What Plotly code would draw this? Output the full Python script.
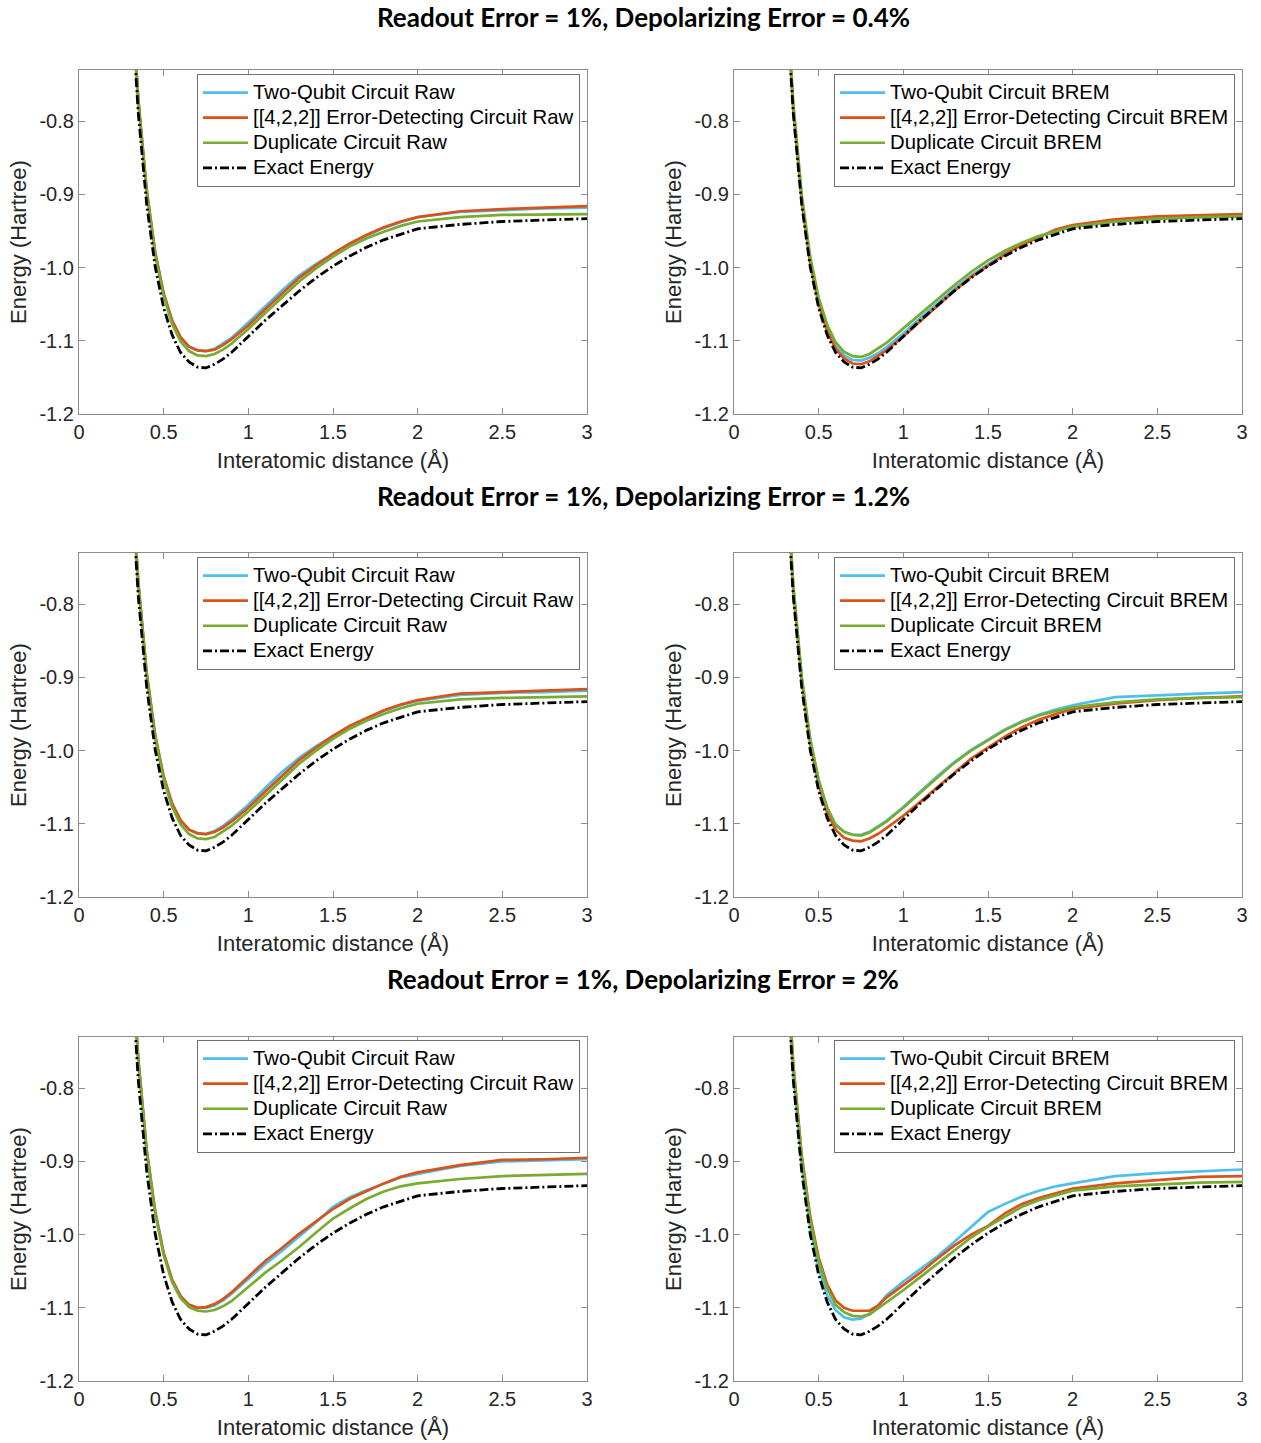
import plotly.graph_objects as go

# ---------------- data ----------------
X = [0.30, 0.35, 0.40, 0.45, 0.50, 0.55, 0.60, 0.65, 0.70, 0.75, 0.80, 0.85, 0.90, 1.00,
     1.10, 1.20, 1.30, 1.40, 1.50, 1.60, 1.70, 1.80, 1.90, 2.00, 2.25, 2.50, 2.75, 3.00]

EXACT = [-0.602, -0.789, -0.914, -0.999, -1.055, -1.092, -1.116, -1.129, -1.136, -1.137, -1.132, -1.125, -1.116, -1.094,
         -1.072, -1.052, -1.032, -1.014, -0.998, -0.984, -0.972, -0.962, -0.954, -0.947, -0.941, -0.937, -0.935, -0.933]

# Row 1: depolarizing 0.4 %
R1_RAW_TWO = [-0.585, -0.770, -0.895, -0.980, -1.036, -1.073, -1.096, -1.108, -1.113, -1.114, -1.111, -1.104, -1.096, -1.075,
              -1.053, -1.031, -1.011, -0.995, -0.981, -0.967, -0.956, -0.946, -0.938, -0.931, -0.924, -0.921, -0.919, -0.918]
R1_RAW_422 = [-0.584, -0.769, -0.894, -0.979, -1.035, -1.072, -1.095, -1.108, -1.113, -1.114, -1.112, -1.106, -1.098, -1.079,
              -1.057, -1.035, -1.014, -0.997, -0.981, -0.967, -0.955, -0.945, -0.937, -0.931, -0.923, -0.920, -0.918, -0.916]
R1_RAW_DUP = [-0.588, -0.773, -0.898, -0.983, -1.039, -1.077, -1.101, -1.114, -1.120, -1.121, -1.118, -1.112, -1.104, -1.084,
              -1.062, -1.040, -1.019, -1.001, -0.985, -0.971, -0.960, -0.951, -0.943, -0.937, -0.931, -0.928, -0.927, -0.927]
R1_BREM_TWO = [-0.591, -0.779, -0.905, -0.990, -1.046, -1.083, -1.107, -1.120, -1.126, -1.127, -1.123, -1.117, -1.109, -1.090,
               -1.069, -1.049, -1.029, -1.011, -0.995, -0.980, -0.968, -0.958, -0.950, -0.944, -0.937, -0.933, -0.931, -0.930]
R1_BREM_422 = [-0.595, -0.783, -0.909, -0.994, -1.050, -1.087, -1.111, -1.124, -1.131, -1.132, -1.128, -1.121, -1.113, -1.094,
               -1.073, -1.053, -1.032, -1.013, -0.997, -0.982, -0.969, -0.958, -0.948, -0.942, -0.934, -0.930, -0.928, -0.927]
R1_BREM_DUP = [-0.588, -0.775, -0.900, -0.985, -1.041, -1.078, -1.102, -1.115, -1.121, -1.122, -1.118, -1.111, -1.103, -1.083,
               -1.063, -1.043, -1.024, -1.006, -0.990, -0.977, -0.966, -0.957, -0.950, -0.944, -0.937, -0.933, -0.931, -0.930]

# Row 2: depolarizing 1.2 %
R2_RAW_TWO = [-0.585, -0.770, -0.895, -0.980, -1.036, -1.073, -1.096, -1.108, -1.113, -1.114, -1.110, -1.103, -1.094, -1.074,
              -1.051, -1.029, -1.010, -0.994, -0.980, -0.967, -0.956, -0.946, -0.938, -0.932, -0.924, -0.921, -0.920, -0.918]
R2_RAW_422 = [-0.584, -0.769, -0.894, -0.979, -1.035, -1.072, -1.095, -1.108, -1.113, -1.114, -1.111, -1.105, -1.097, -1.078,
              -1.056, -1.034, -1.013, -0.996, -0.980, -0.966, -0.955, -0.945, -0.937, -0.931, -0.922, -0.920, -0.918, -0.916]
R2_RAW_DUP = [-0.588, -0.773, -0.898, -0.983, -1.039, -1.077, -1.101, -1.114, -1.120, -1.121, -1.118, -1.111, -1.103, -1.083,
              -1.061, -1.039, -1.018, -1.000, -0.984, -0.970, -0.959, -0.950, -0.942, -0.936, -0.930, -0.928, -0.927, -0.926]
R2_BREM_TWO = [-0.588, -0.775, -0.900, -0.985, -1.041, -1.078, -1.102, -1.111, -1.115, -1.115, -1.111, -1.104, -1.096, -1.077,
               -1.056, -1.035, -1.016, -0.999, -0.985, -0.971, -0.960, -0.951, -0.944, -0.938, -0.927, -0.924, -0.922, -0.920]
R2_BREM_422 = [-0.592, -0.780, -0.905, -0.991, -1.047, -1.085, -1.108, -1.119, -1.123, -1.124, -1.120, -1.114, -1.106, -1.089,
               -1.070, -1.050, -1.030, -1.011, -0.996, -0.981, -0.968, -0.958, -0.950, -0.943, -0.936, -0.931, -0.928, -0.926]
R2_BREM_DUP = [-0.587, -0.774, -0.899, -0.984, -1.040, -1.078, -1.101, -1.111, -1.115, -1.116, -1.112, -1.105, -1.097, -1.078,
               -1.057, -1.037, -1.017, -1.000, -0.986, -0.972, -0.961, -0.952, -0.946, -0.941, -0.934, -0.930, -0.928, -0.927]

# Row 3: depolarizing 2 %
R3_RAW_TWO = [-0.575, -0.760, -0.885, -0.968, -1.025, -1.062, -1.084, -1.096, -1.100, -1.100, -1.097, -1.090, -1.081, -1.060,
              -1.040, -1.022, -1.003, -0.983, -0.962, -0.949, -0.939, -0.930, -0.922, -0.917, -0.906, -0.900, -0.898, -0.897]
R3_RAW_422 = [-0.575, -0.760, -0.885, -0.968, -1.025, -1.062, -1.084, -1.096, -1.100, -1.099, -1.095, -1.088, -1.079, -1.058,
              -1.036, -1.018, -0.999, -0.982, -0.965, -0.951, -0.940, -0.930, -0.921, -0.915, -0.905, -0.898, -0.897, -0.895]
R3_RAW_DUP = [-0.578, -0.763, -0.888, -0.971, -1.028, -1.065, -1.087, -1.099, -1.104, -1.105, -1.103, -1.098, -1.091, -1.071,
              -1.052, -1.035, -1.017, -0.997, -0.978, -0.964, -0.951, -0.941, -0.934, -0.930, -0.924, -0.920, -0.918, -0.917]
R3_BREM_TWO = [-0.592, -0.780, -0.905, -0.990, -1.046, -1.083, -1.103, -1.113, -1.116, -1.115, -1.108, -1.097, -1.083, -1.064,
               -1.047, -1.030, -1.010, -0.990, -0.969, -0.958, -0.948, -0.940, -0.934, -0.930, -0.920, -0.916, -0.913, -0.911]
R3_BREM_422 = [-0.580, -0.766, -0.891, -0.975, -1.031, -1.068, -1.090, -1.100, -1.104, -1.104, -1.104, -1.097, -1.086, -1.069,
               -1.052, -1.033, -1.015, -1.000, -0.988, -0.971, -0.958, -0.950, -0.943, -0.937, -0.930, -0.925, -0.921, -0.920]
R3_BREM_DUP = [-0.583, -0.770, -0.895, -0.980, -1.036, -1.073, -1.096, -1.106, -1.111, -1.112, -1.109, -1.101, -1.092, -1.076,
               -1.058, -1.040, -1.021, -1.004, -0.989, -0.975, -0.962, -0.953, -0.946, -0.940, -0.934, -0.931, -0.929, -0.928]

ROW_TITLES = ["Readout Error = 1%, Depolarizing Error = 0.4%",
              "Readout Error = 1%, Depolarizing Error = 1.2%",
              "Readout Error = 1%, Depolarizing Error = 2%"]
SERIES_NAMES = ["Two-Qubit Circuit", "[[4,2,2]] Error-Detecting Circuit", "Duplicate Circuit"]
EXACT_NAME = "Exact Energy"
X_TICKS = [0, 0.5, 1, 1.5, 2, 2.5, 3]
X_TICKTEXT = ["0", "0.5", "1", "1.5", "2", "2.5", "3"]
Y_TICKS = [-1.2, -1.1, -1.0, -0.9, -0.8]
Y_TICKTEXT = ["-1.2", "-1.1", "-1.0", "-0.9", "-0.8"]

PANELS = [
    (0, 0, "Raw", [R1_RAW_TWO, R1_RAW_422, R1_RAW_DUP]),
    (0, 1, "BREM", [R1_BREM_TWO, R1_BREM_422, R1_BREM_DUP]),
    (1, 0, "Raw", [R2_RAW_TWO, R2_RAW_422, R2_RAW_DUP]),
    (1, 1, "BREM", [R2_BREM_TWO, R2_BREM_422, R2_BREM_DUP]),
    (2, 0, "Raw", [R3_RAW_TWO, R3_RAW_422, R3_RAW_DUP]),
    (2, 1, "BREM", [R3_BREM_TWO, R3_BREM_422, R3_BREM_DUP]),
]

# ---------------- style / layout ----------------
W, H = 1261, 1443
COLORS = ["#4DBEEE", "#D95319", "#77AC30"]
SANS = "Liberation Sans, Arial, Helvetica, sans-serif"
TXT = "#262626"
AXC = "#8c8c8c"
LEG_TEXT_PX = 20.3   # rendered legend text size (row spacing follows legend font size)


def leg_label(s):
    return f'<span style="font-size:{LEG_TEXT_PX}px">{s}</span>'


XDOM = [[79 / W, 587 / W], [734 / W, 1242 / W]]
YDOM = [[1 - 414 / H, 1 - 70 / H], [1 - 897 / H, 1 - 553 / H], [1 - 1381 / H, 1 - 1037 / H]]
LEG_X = [197 / W, 834 / W]
LEG_Y = [1 - 74 / H, 1 - 557 / H, 1 - 1040 / H]
TITLE_TOP = [0, 479, 962]   # px from top of each row-title text box

fig = go.Figure()
layout = dict(
    width=W, height=H,
    margin=dict(l=0, r=0, t=0, b=0, autoexpand=False),
    paper_bgcolor="white", plot_bgcolor="white",
    showlegend=True,
    annotations=[],
)

for i, (r, c, kind, series) in enumerate(PANELS):
    k = i + 1
    sfx = "" if k == 1 else str(k)
    xa, ya, lg = "x" + sfx, "y" + sfx, "legend" + sfx
    for name, vals, col in zip(SERIES_NAMES, series, COLORS):
        fig.add_trace(go.Scatter(
            x=X, y=vals, mode="lines", name=leg_label(f"{name} {kind}"),
            line=dict(color=col, width=2.7), xaxis=xa, yaxis=ya, legend=lg))
    fig.add_trace(go.Scatter(
        x=X, y=EXACT, mode="lines", name=leg_label(EXACT_NAME),
        line=dict(color="black", width=2.8, dash="9px,3px,2px,3px"),
        xaxis=xa, yaxis=ya, legend=lg))

    layout["xaxis" + sfx] = dict(
        domain=XDOM[c], anchor=ya, range=[0, 3], automargin=False,
        tickvals=X_TICKS, ticktext=X_TICKTEXT,
        ticks="inside", ticklen=6, tickcolor=AXC, tickwidth=1,
        showline=True, linecolor=AXC, linewidth=1.2, mirror="ticks",
        showgrid=False, zeroline=False,
        tickfont=dict(family=SANS, size=20, color=TXT),
        title=dict(text="Interatomic distance (Å)", standoff=10,
                   font=dict(family=SANS, size=22, color=TXT)),
    )
    layout["yaxis" + sfx] = dict(
        domain=YDOM[r], anchor=xa, range=[-1.2, -0.73], automargin=False,
        tickvals=Y_TICKS, ticktext=Y_TICKTEXT,
        ticks="inside", ticklen=6, tickcolor=AXC, tickwidth=1,
        showline=True, linecolor=AXC, linewidth=1.2, mirror="ticks",
        showgrid=False, zeroline=False,
        tickfont=dict(family=SANS, size=20, color=TXT),
        title=dict(text="Energy (Hartree)", standoff=6,
                   font=dict(family=SANS, size=22, color=TXT)),
    )
    layout[lg] = dict(
        x=LEG_X[c], y=LEG_Y[r], xanchor="left", yanchor="top",
        bgcolor="white", bordercolor="#707070", borderwidth=1,
        font=dict(family=SANS, size=17, color="black"),
        tracegroupgap=0, itemwidth=45,
    )

for r, t in enumerate(ROW_TITLES):
    layout["annotations"].append(dict(
        text=f"<b>{t}</b>", x=0.5103, y=1 - TITLE_TOP[r] / H, xref="paper", yref="paper",
        xanchor="center", yanchor="top", showarrow=False, borderpad=0,
        font=dict(family="Lato, Open Sans, sans-serif", size=26, color="black")))

fig.update_layout(**layout)
fig.write_html("out.html")
